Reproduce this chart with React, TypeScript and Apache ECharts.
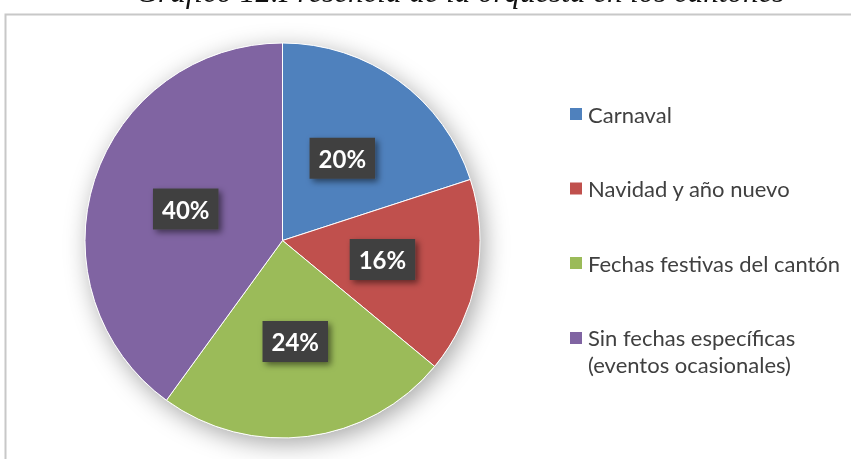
import React, { useEffect, useRef } from "react";
import * as echarts from "echarts";

const categories = [
  "Carnaval",
  "Navidad y año nuevo",
  "Fechas festivas del cantón",
  "Sin fechas específicas\n(eventos ocasionales)",
];
const values = [20, 16, 24, 40];
const colors = ["#4F81BD", "#C0504D", "#9BBB59", "#8064A2"];
const titleText = "Gráfico 12.Presencia de la orquesta en los cantones";

const CENTER = [282.5, 240.5];
const RADIUS = 197.5;

const legendFont = { fontFamily: "Lato", fontSize: 22, color: "#404040" };

export default function App() {
  const ref = useRef<HTMLDivElement>(null);
  useEffect(() => {
    if (!ref.current) return;
    const chart = echarts.init(ref.current, null, { renderer: "svg" });
    chart.setOption({
      animation: false,
      graphic: [
        {
          type: "rect",
          shape: { x: 5.5, y: 14.5, width: 900, height: 500 },
          style: { fill: "#fff", stroke: "#C8C8C8", lineWidth: 2 },
          z: -10,
          silent: true,
        },
        {
          type: "text",
          x: 460,
          y: -8.5,
          style: {
            text: titleText,
            fontStyle: "italic",
            fontSize: 31,
            fontFamily: "Liberation Serif",
            fill: "#111",
            align: "center",
            verticalAlign: "middle",
          },
          silent: true,
        },
      ],
      legend: {
        orient: "vertical",
        left: 568,
        top: 102,
        padding: 0,
        itemWidth: 14,
        itemHeight: 14,
        itemGap: 50.5,
        icon: "rect",
        data: categories,
        selectedMode: false,
        formatter: (name: string) => {
          const parts = name.split("\n");
          if (parts.length === 1) return "{a|" + name + "}";
          return parts
            .map((s, i) => (i === 0 ? "{a|" + s + "}" : "{b|" + s + "}"))
            .join("\n");
        },
        textStyle: {
          ...legendFont,
          lineHeight: 24,
          rich: {
            a: { ...legendFont, lineHeight: 24 },
            b: {
              ...legendFont,
              lineHeight: 1,
              verticalAlign: "top",
              padding: [4, 0, 0, 0],
            },
          },
        },
      },
      series: [
        {
          type: "pie",
          center: CENTER,
          radius: RADIUS,
          silent: true,
          z: 1,
          data: [{ value: 1, name: "" }],
          label: { show: false },
          labelLine: { show: false },
          itemStyle: {
            color: "#ffffff",
            shadowBlur: 24,
            shadowColor: "rgba(0,0,0,0.35)",
            shadowOffsetX: 4,
            shadowOffsetY: 6,
          },
        },
        {
          type: "pie",
          center: CENTER,
          radius: RADIUS,
          startAngle: 90,
          clockwise: true,
          z: 2,
          data: categories.map((c, i) => ({
            name: c,
            value: values[i],
            itemStyle: { color: colors[i] },
          })),
          itemStyle: { borderColor: "#ffffff", borderWidth: 1 },
          label: {
            show: true,
            position: "inside",
            formatter: (p: any) => p.value + "%",
            fontFamily: "Lato",
            fontWeight: "bold",
            fontSize: 24,
            color: "#ffffff",
            backgroundColor: "#404040",
            padding: [9, 9, 8, 9],
            shadowBlur: 6,
            shadowColor: "rgba(0,0,0,0.5)",
            shadowOffsetX: 3,
            shadowOffsetY: 3,
          },
          labelLine: { show: false },
          emphasis: { disabled: true },
        },
      ],
    });
    return () => chart.dispose();
  }, []);
  return (
    <div
      ref={ref}
      style={{ position: "fixed", left: 0, top: 0, width: 851, height: 459 }}
    />
  );
}
